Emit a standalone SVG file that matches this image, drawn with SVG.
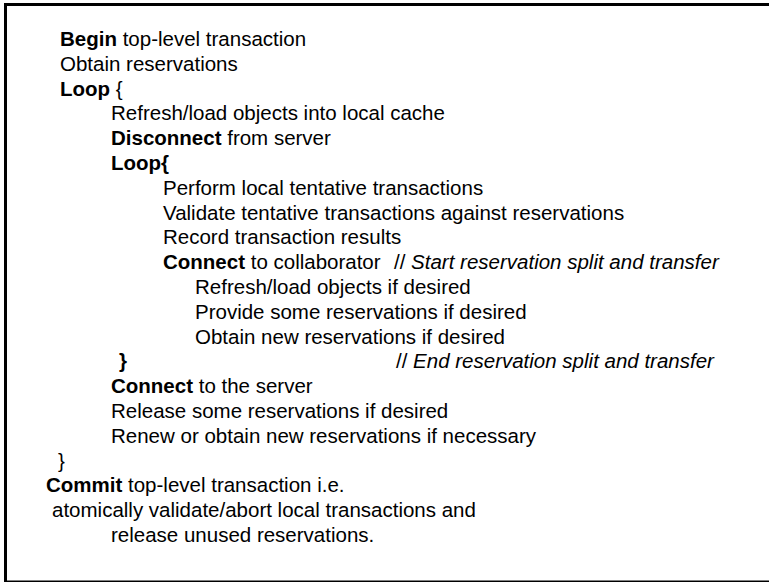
<svg xmlns="http://www.w3.org/2000/svg" width="769" height="582" viewBox="0 0 769 582">
<style>
text{font-family:"Liberation Sans",Arial,Helvetica,sans-serif;font-size:20.5px;fill:#000;white-space:pre}
.b{font-weight:bold}
.i{font-style:italic}
</style>
<rect x="0" y="0" width="769" height="582" fill="#fff"/>
<g id="frame"><rect x="5.5" y="4.5" width="800" height="577.5" fill="none" stroke="#000" stroke-width="3"/></g>
<g id="code">
<text x="60" y="46"><tspan class="b">Begin</tspan> top-level transaction</text>
<text x="60" y="70.8">Obtain reservations</text>
<text x="60" y="95.6"><tspan class="b">Loop</tspan> {</text>
<text x="111" y="120.4">Refresh/load objects into local cache</text>
<text x="111" y="145.2"><tspan class="b">Disconnect</tspan> from server</text>
<text x="111" y="170" class="b">Loop{</text>
<text x="163" y="194.8">Perform local tentative transactions</text>
<text x="163" y="219.6">Validate tentative transactions against reservations</text>
<text x="163" y="244.4">Record transaction results</text>
<text x="163" y="269.2"><tspan class="b">Connect</tspan> to collaborator</text>
<text x="394" y="269.2">// <tspan class="i">Start reservation split and transfer</tspan></text>
<text x="195" y="294">Refresh/load objects if desired</text>
<text x="195" y="318.8">Provide some reservations if desired</text>
<text x="195" y="343.6">Obtain new reservations if desired</text>
<text x="119" y="368.4" class="b">}</text>
<text x="396" y="368.4">// <tspan class="i">End reservation split and transfer</tspan></text>
<text x="111" y="393.2"><tspan class="b">Connect</tspan> to the server</text>
<text x="111" y="418">Release some reservations if desired</text>
<text x="111" y="442.8">Renew or obtain new reservations if necessary</text>
<text x="58" y="467.6">}</text>
<text x="46" y="492.4"><tspan class="b">Commit</tspan> top-level transaction i.e.</text>
<text x="52" y="517.2">atomically validate/abort local transactions and</text>
<text x="111" y="542">release unused reservations.</text>
</g>
</svg>
